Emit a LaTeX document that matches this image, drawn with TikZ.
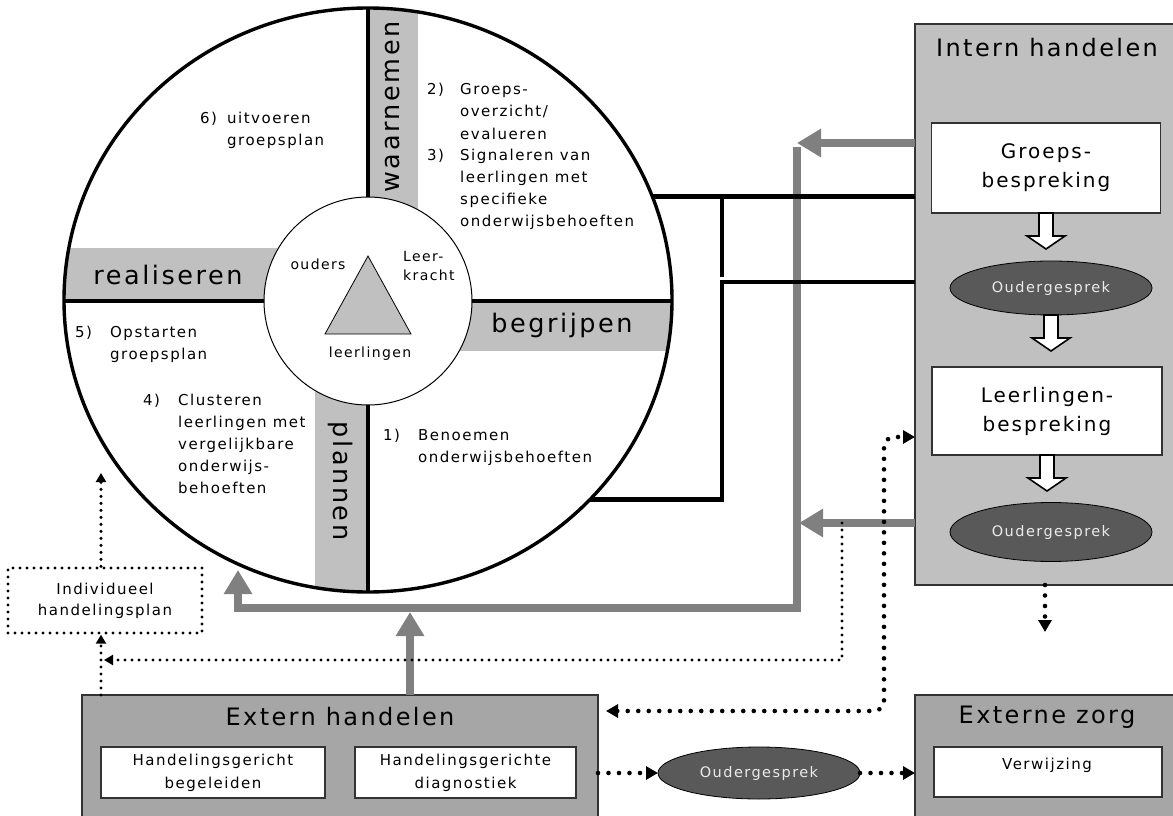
\documentclass[tikz,border=0pt]{standalone}
\usepackage{fontspec}
\setmainfont{DejaVu Sans}[LetterSpace=10]
\usetikzlibrary{arrows.meta,shapes.geometric}

\definecolor{barfill}{HTML}{C0C0C0}
\definecolor{panelfill}{HTML}{A6A6A6}
\definecolor{flowgray}{HTML}{808080}
\definecolor{talkfill}{HTML}{595959}

\tikzset{
  panel/.style={draw=black!80, line width=1.2pt, anchor=north west, inner sep=0pt, outer sep=0pt},
  card/.style={draw=black!80, fill=white, line width=1.2pt, align=center, inner sep=0pt, outer sep=0pt},
  talk/.style={ellipse, draw=black, fill=talkfill, line width=0.8pt, text=white!92!black,
    font=\fontsize{14.5}{16}\selectfont, minimum width=202pt, minimum height=54pt, inner sep=0pt, outer sep=0pt},
  grayflow/.style={draw=flowgray, line width=8pt, -{Triangle[length=24pt,width=27pt]}},
  wire/.style={line width=4.6pt},
  dotbig/.style={line width=4.6pt, line cap=round, dash pattern=on 0pt off 10.5pt},
  dotsmall/.style={line width=3.3pt, line cap=round, dash pattern=on 0pt off 7pt},
  bodytext/.style={font=\fontsize{15}{22}\selectfont, inner sep=0pt},
  phase/.style={font=\fontsize{25.5}{30}\selectfont, inner sep=0pt},
  heading/.style={font=\fontsize{24}{28}\selectfont, inner sep=0pt},
  hollowdown/.pic={\draw[fill=white, line width=1.6pt] (-7,0) -- (-7,23) -- (-19,23) -- (0,36) -- (19,23) -- (7,23) -- (7,0) -- cycle;}
}

\begin{document}
\begin{tikzpicture}[x=1pt,y=-1pt]
\useasboundingbox (0,0) rectangle (1173,816);

% wheel with the four phases
\begin{scope}
  \clip (368,300) ellipse [x radius=304, y radius=292];
  \fill[barfill] (368,0) rectangle (418,300);
  \fill[barfill] (0,248) rectangle (368,300);
  \fill[barfill] (368,300) rectangle (700,351);
  \fill[barfill] (315,300) rectangle (368,600);
\end{scope}
\node[circle, draw, fill=white, line width=1pt, minimum size=208pt, inner sep=0pt, outer sep=0pt] (hub) at (368,301) {};
\node[ellipse, draw, line width=3.4pt, minimum width=608pt, minimum height=584pt, inner sep=0pt, outer sep=0pt] (wheel) at (368,300) {};
\draw[line width=3.4pt] (hub.north) -- (hub.north |- wheel.north);
\draw[line width=3.4pt] (hub.south) -- (hub.south |- wheel.south);
\draw[line width=3.4pt] (hub.west) -- (hub.west -| wheel.west);
\draw[line width=3.4pt] (hub.east) -- (hub.east -| wheel.east);

\draw[fill=barfill, line width=0.8pt] (368,256) -- (325,334) -- (411,334) -- cycle;
\node[font=\fontsize{14}{19}\selectfont] (ouders) at (318,264) {ouders};
\node[font=\fontsize{14}{19}\selectfont, align=left, anchor=west, inner sep=0pt] (leerkracht) at (403,266) {Leer-\\kracht};
\node[font=\fontsize{14}{19}\selectfont] (leerlingen) at (370,354) {leerlingen};

\node[phase] (realiseren) at (168,275) {realiseren};
\node[phase, rotate=90] (waarnemen) at (393,107) {waarnemen};
\node[phase] (begrijpen) at (562,325) {begrijpen};
\node[phase, rotate=-90] (plannen) at (341,481) {plannen};

\node[bodytext, anchor=base west] (stepsix) at (200,123)
  {\begin{tabular}[t]{@{}p{18pt}@{\hspace{9pt}}l@{}}6) & uitvoeren\\ & groepsplan\end{tabular}};
\node[bodytext, anchor=base west] (steptwo) at (427,95)
  {\begin{tabular}[t]{@{}p{20pt}@{\hspace{13pt}}l@{}}2) & Groeps-\\ & overzicht/\\ & evalueren\\
   3) & Signaleren van\\ & leerlingen met\\ & specifieke\\ & onderwijsbehoeften\end{tabular}};
\node[bodytext, anchor=base west] (stepfive) at (75,337)
  {\begin{tabular}[t]{@{}p{20pt}@{\hspace{15pt}}l@{}}5) & Opstarten\\ & groepsplan\end{tabular}};
\node[bodytext, anchor=base west] (stepfour) at (143,405)
  {\begin{tabular}[t]{@{}p{20pt}@{\hspace{15pt}}l@{}}4) & Clusteren\\ & leerlingen met\\ & vergelijkbare\\ & onderwijs-\\ & behoeften\end{tabular}};
\node[bodytext, anchor=base west] (stepone) at (383,440)
  {\begin{tabular}[t]{@{}p{20pt}@{\hspace{15pt}}l@{}}1) & Benoemen\\ & onderwijsbehoeften\end{tabular}};

% intern handelen
\node[panel, fill=barfill, minimum width=260pt, minimum height=561pt] (intern) at (915,24) {};
\node[heading] (internlabel) at (1047,48) {Intern handelen};
\node[card, minimum width=229pt, minimum height=90pt, font=\fontsize{20}{29}\selectfont] (groeps) at (1046,168) {Groeps-\\bespreking};
\node[talk] (talkA) at (1051,288) {Oudergesprek};
\node[card, minimum width=230pt, minimum height=88pt, font=\fontsize{20}{29}\selectfont] (leerbespr) at (1047,411) {Leerlingen-\\bespreking};
\node[talk, minimum height=59pt] (talkB) at (1051,532) {Oudergesprek};
\foreach \n in {groeps,talkA,leerbespr}
  \pic at (\n.south) {hollowdown};

% extern handelen en externe zorg
\node[panel, fill=panelfill, minimum width=516pt, minimum height=130pt] (extern) at (82,695) {};
\node[heading] (externlabel) at (340,717) {Extern handelen};
\node[card, minimum width=224pt, minimum height=51pt, font=\fontsize{15}{23}\selectfont] (begeleiden) at (213,772.5) {Handelingsgericht\\begeleiden};
\node[card, minimum width=221pt, minimum height=51pt, font=\fontsize{15}{23}\selectfont] (diagnostiek) at (465.5,772.5) {Handelingsgerichte\\diagnostiek};
\node[panel, fill=panelfill, minimum width=260pt, minimum height=130pt] (zorg) at (915,695) {};
\node[heading] (zorglabel) at (1047,717) {Externe zorg};
\node[card, minimum width=228pt, minimum height=50pt] (verwijzing) at (1048,772) {};
\node[font=\fontsize{15}{18}\selectfont] (verwijzinglabel) at (1047,765) {Verwijzing};
\node[talk, minimum height=52pt] (talkC) at (759,773) {Oudergesprek};
\node[draw, dotsmall, minimum width=194pt, minimum height=65pt, align=center, font=\fontsize{15}{21}\selectfont] (ihp) at (105,600.5) {Individueel\\handelingsplan};

% grijze stromen
\coordinate (trunktop) at (797,143);
\coordinate (trunkmid) at (799,523);
\coordinate (trunkfoot) at (797,608);
\coordinate (wheelfoot) at (238,570);
\coordinate (junction) at (410,612);
\draw[grayflow] (intern.west |- trunktop) -- (trunktop);
\draw[grayflow] (intern.west |- trunkmid) -- (trunkmid);
\draw[grayflow] ([yshift=-4pt]trunktop) -- (trunkfoot) -| (wheelfoot);
\draw[grayflow] (extern.north -| junction) -- (junction);

% zwarte lijnen
\coordinate (bend) at (722,282);
\draw[wire] (wheel.20.7) -- (wheel.20.7 -| intern.west);
\draw[wire] (wheel.-42.6) -| (bend) -- (bend -| intern.west);
\draw[wire] (722,199) -- (722,277);

% stippellijnen
\coordinate (ihpfeed) at (101,473);
\coordinate (sidetap) at (842,523);
\coordinate (corner) at (884,437);
\coordinate (onward) at (1045,632);
\draw[dotsmall, -{Triangle[length=9pt,width=10pt]}] (ihp.north -| ihpfeed) -- (ihpfeed);
\draw[dotsmall, -{Triangle[length=9pt,width=10pt]}] (extern.north -| ihpfeed) -- (ihp.south -| ihpfeed);
\draw[dotsmall, -{Triangle[length=9pt,width=10pt]}] (sidetap) |- ([xshift=3pt]ihpfeed |- 0,660);
\draw[dotbig, {Triangle[length=12pt,width=13pt]}-{Triangle[length=12pt,width=13pt]}, rounded corners=10pt, shorten <=8pt]
  (extern.east |- 0,711) -| (corner) -- (corner -| intern.west);
\draw[dotbig, -{Triangle[length=12pt,width=13pt]}] (extern.east |- talkC) -- (talkC.west);
\draw[dotbig, -{Triangle[length=12pt,width=13pt]}] (talkC.east) -- (talkC.east -| zorg.west);
\draw[dotbig, -{Triangle[length=12pt,width=13pt]}] (intern.south) -- (onward);
\end{tikzpicture}
\end{document}
